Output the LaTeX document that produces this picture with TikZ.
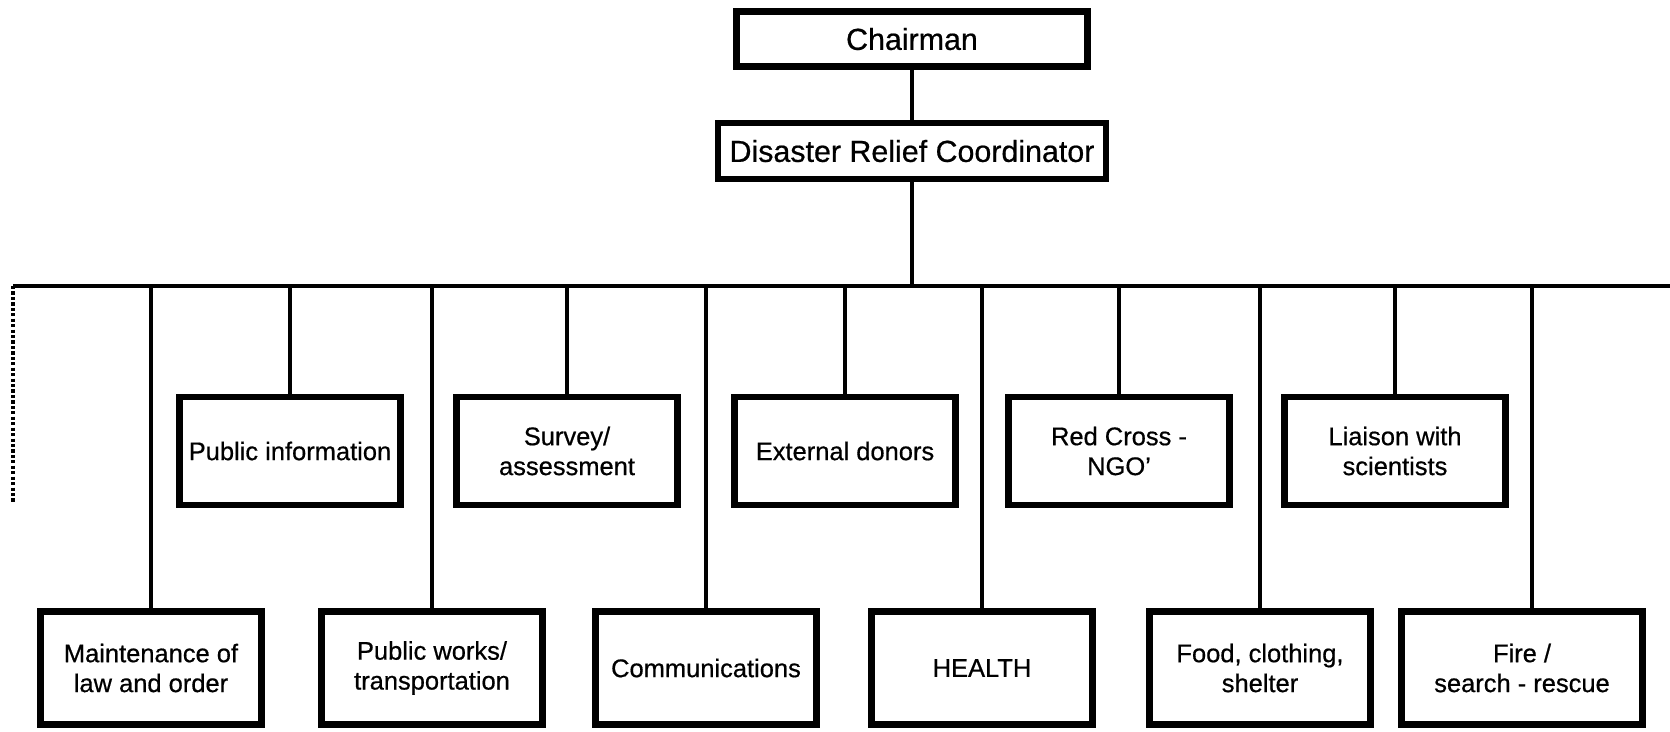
\documentclass[tikz,border=0pt]{standalone}
\usepackage{fontspec}
\setmainfont{Liberation Sans}[FakeBold=0.6]
\usetikzlibrary{positioning}

\tikzset{
  head/.style={draw, line width=3.6pt, inner sep=0pt, align=center, font=\fontsize{17.3}{21}\selectfont},
  unit/.style={draw, line width=3.6pt, inner sep=0pt, align=center, minimum width=4.42cm, minimum height=2.16cm, font=\fontsize{14.5}{17}\selectfont},
  link/.style={line width=1.9pt},
}

\begin{document}
\begin{tikzpicture}[x=0.02cm, y=-0.02cm]
    \useasboundingbox (0,0) rectangle (1670,731);

    \node [head, minimum width=7.02cm, minimum height=1.1cm] (chair) at (912,39) {Chairman};
    \node [head, minimum width=7.76cm, minimum height=1.12cm] (coord) at (912,151) {Disaster Relief Coordinator};

    \coordinate (busL) at (13,286);
    \coordinate (busR) at (1670,286);
    \coordinate (dotEnd) at (13,503);

    % upper row
    \node [unit] (pubinfo) at (290,451) {Public information};
    \node [unit] (survey) at (567,451) {Survey/\\assessment};
    \node [unit] (donors) at (845,451) {External donors};
    \node [unit] (redcross) at (1119,451) {Red Cross -\\NGO'};
    \node [unit] (liaison) at (1395,451) {Liaison with\\scientists};

    % lower row
    \node [unit, minimum height=2.26cm] (law) at (151,668) {Maintenance of\\law and order};
    \node [unit, minimum height=2.26cm] (works) at (432,668) {Public works/\\transportation};
    \node [unit, minimum height=2.26cm] (comms) at (706,668) {Communications};
    \node [unit, minimum height=2.26cm] (health) at (982,668) {HEALTH};
    \node [unit, minimum height=2.26cm] (food) at (1260,668) {Food, clothing,\\shelter};
    \node [unit, minimum height=2.26cm, minimum width=4.82cm] (fire) at (1522,668) {Fire /\\search - rescue};

    \draw [link] (chair) -- (coord);
    \draw [link] (coord) -- (coord |- busL);
    \draw [link] (busL) -- (busR);
    \draw [line width=1.8pt, dash pattern=on 1.8pt off 1.3pt] (busL) -- (dotEnd);
    \foreach \unitname in {pubinfo,survey,donors,redcross,liaison,law,works,comms,health,food}
        \draw [link] (\unitname.north) -- (\unitname.north |- busL);
    \draw [link] ([xshift=0.2cm]fire.north) -- ([xshift=0.2cm]fire.north |- busL);
\end{tikzpicture}
\end{document}
